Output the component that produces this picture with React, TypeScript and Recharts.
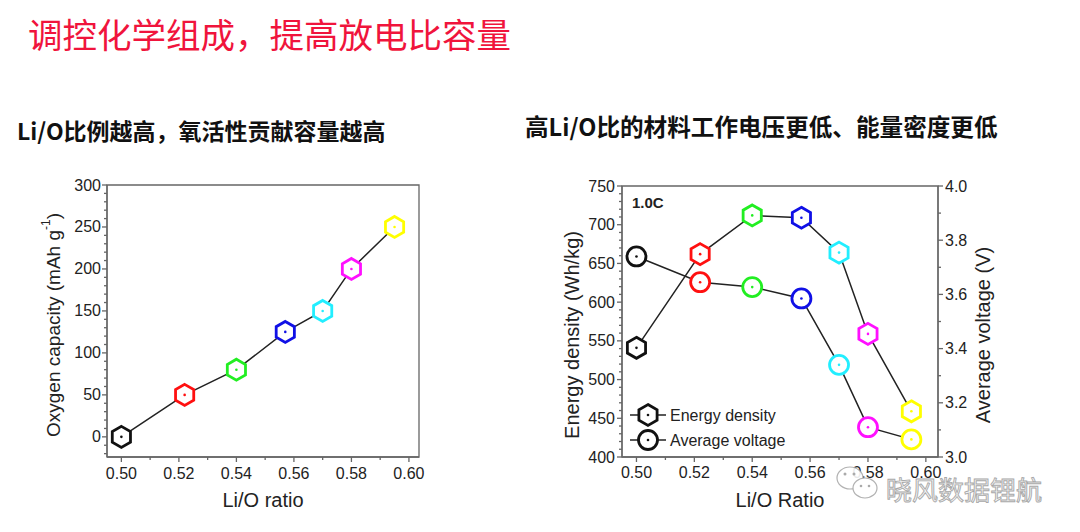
import { LineChart, Line, XAxis, YAxis, ReferenceArea } from 'recharts'

// values
const LI_O_RATIO = [0.5, 0.522, 0.54, 0.557, 0.57, 0.58, 0.595]
const OXYGEN_CAPACITY = [0, 50, 80, 125, 150, 200, 250]
const ENERGY_DENSITY = [541, 662, 712, 709, 664, 559, 459]
const AVERAGE_VOLTAGE = [3.74, 3.645, 3.627, 3.585, 3.34, 3.11, 3.065]
const MARKER_COLORS = ['#111111', '#ff1010', '#22ee22', '#1010e6', '#22eeff', '#ff10ff', '#ffff00']

const RATIO_MAJOR = [0.5, 0.52, 0.54, 0.56, 0.58, 0.6]
const RATIO_MINOR = [0.51, 0.53, 0.55, 0.57, 0.59]
const CAPACITY_MAJOR = [0, 50, 100, 150, 200, 250, 300]
const ENERGY_MAJOR = [400, 450, 500, 550, 600, 650, 700, 750]
const VOLTAGE_MAJOR = [3.0, 3.2, 3.4, 3.6, 3.8, 4.0]
const VOLTAGE_MINOR = [3.1, 3.3, 3.5, 3.7, 3.9]

const AXIS = '#666'
const TEXT = '#222'
const FONT = '"Liberation Sans", Arial, sans-serif'
const CJK = '"Noto Sans CJK SC", sans-serif'

const every = (lo: number, hi: number, step: number) => {
  const out: number[] = []
  for (let v = lo; v <= hi + 1e-9; v += step) out.push(Math.round(v * 1000) / 1000)
  return out
}

const capacityData = LI_O_RATIO.map((x, i) => ({ x, capacity: OXYGEN_CAPACITY[i] }))
const ratioData = LI_O_RATIO.map((x, i) => ({ x, energy: ENERGY_DENSITY[i], voltage: AVERAGE_VOLTAGE[i] }))

const isIn = (list: number[], v: number) => list.some(m => Math.abs(m - v) < 1e-6)

function makeTick(side: 'bottom' | 'left' | 'right', major: number[], fmt: (v: number) => string, gap: number) {
  return (props: any) => {
    const { x, y, payload, index } = props
    const v = payload.value
    const big = isIn(major, v)
    const len = big ? 5 : 3
    if (side === 'bottom') {
      return (
        <g key={`t-${index}`}>
          <line x1={x} x2={x} y1={y} y2={y + len} stroke={AXIS} strokeWidth={1.3} />
          {big && <text x={x} y={y + gap} textAnchor="middle" dominantBaseline="central" fontSize={16} fill={TEXT} fontFamily={FONT}>{fmt(v)}</text>}
        </g>
      )
    }
    const dir = side === 'left' ? -1 : 1
    return (
      <g key={`t-${index}`}>
        <line x1={x} x2={x + dir * len} y1={y} y2={y} stroke={AXIS} strokeWidth={1.3} />
        {big && <text x={x + dir * gap} y={y} textAnchor={side === 'left' ? 'end' : 'start'} dominantBaseline="central" fontSize={16} fill={TEXT} fontFamily={FONT}>{fmt(v)}</text>}
      </g>
    )
  }
}

function hexPoints(cx: number, cy: number, r: number) {
  return [0, 1, 2, 3, 4, 5].map(i => {
    const a = (Math.PI / 180) * (60 * i - 90)
    return `${cx + r * Math.cos(a)},${cy + r * Math.sin(a)}`
  }).join(' ')
}

function HexDot(props: any) {
  const { cx, cy, index } = props
  if (cx == null || cy == null) return <g key={`h-${index}`} />
  const c = props.color ?? MARKER_COLORS[index]
  return (
    <g key={`h-${index}`}>
      <polygon points={hexPoints(cx, cy, 10.5)} fill="#fff" stroke={c} strokeWidth={2.8} />
      <circle cx={cx} cy={cy} r={1.3} fill={c} />
    </g>
  )
}

function RingDot(props: any) {
  const { cx, cy, index } = props
  if (cx == null || cy == null) return <g key={`c-${index}`} />
  const c = props.color ?? MARKER_COLORS[index]
  return (
    <g key={`c-${index}`}>
      <circle cx={cx} cy={cy} r={9.5} fill="#fff" stroke={c} strokeWidth={2.8} />
      <circle cx={cx} cy={cy} r={1.3} fill={c} />
    </g>
  )
}

const fmt2 = (v: number) => v.toFixed(2)
const fmt0 = (v: number) => String(Math.round(v))
const fmt1 = (v: number) => v.toFixed(1)

function CapacityChart() {
  const xDomain: [number, number] = [0.495, 0.6035]
  const yDomain: [number, number] = [-24, 300]
  return (
    <LineChart width={480} height={532} data={capacityData} margin={{ top: 185, right: 61, bottom: 45, left: 47 }}>
      <XAxis type="number" dataKey="x" domain={xDomain} ticks={[...RATIO_MAJOR, ...RATIO_MINOR].sort()} interval={0}
        tickSize={0} tickMargin={0} tickLine={false} axisLine={{ stroke: AXIS, strokeWidth: 1.3 }}
        tick={makeTick('bottom', RATIO_MAJOR, fmt2, 16)} height={30} />
      <YAxis type="number" domain={yDomain} ticks={every(-20, 300, 10)} interval={0}
        tickSize={0} tickMargin={0} tickLine={false} axisLine={{ stroke: AXIS, strokeWidth: 1.3 }}
        tick={makeTick('left', CAPACITY_MAJOR, fmt0, 6)} width={60} />
      <ReferenceArea x1={xDomain[0]} x2={xDomain[1]} y1={yDomain[0]} y2={yDomain[1]} fill="none" stroke={AXIS} strokeWidth={1.3} />
      <Line dataKey="capacity" stroke="#222" strokeWidth={1.5} isAnimationActive={false} activeDot={false}
        dot={(p: any) => <HexDot {...p} key={`hx-${p.index}`} />} />
    </LineChart>
  )
}

function RatioChart() {
  const xDomain: [number, number] = [0.495, 0.6042]
  return (
    <LineChart width={580} height={532} data={ratioData} margin={{ top: 186, right: 82, bottom: 45, left: 62 }}>
      <XAxis type="number" dataKey="x" domain={xDomain} ticks={[...RATIO_MAJOR, ...RATIO_MINOR].sort()} interval={0}
        tickSize={0} tickMargin={0} tickLine={false} axisLine={{ stroke: AXIS, strokeWidth: 1.3 }}
        tick={makeTick('bottom', RATIO_MAJOR, fmt2, 15)} height={30} />
      <YAxis yAxisId="energy" type="number" domain={[400, 750]} ticks={every(400, 750, 10)} interval={0}
        tickSize={0} tickMargin={0} tickLine={false} axisLine={{ stroke: AXIS, strokeWidth: 1.3 }}
        tick={makeTick('left', ENERGY_MAJOR, fmt0, 7)} width={60} />
      <YAxis yAxisId="voltage" orientation="right" type="number" domain={[3, 4]} ticks={[...VOLTAGE_MAJOR, ...VOLTAGE_MINOR].sort()} interval={0}
        tickSize={0} tickMargin={0} tickLine={false} axisLine={{ stroke: AXIS, strokeWidth: 1.3 }}
        tick={makeTick('right', VOLTAGE_MAJOR, fmt1, 7)} width={60} />
      <ReferenceArea yAxisId="energy" x1={xDomain[0]} x2={xDomain[1]} y1={400} y2={750} fill="none" stroke={AXIS} strokeWidth={1.3} />
      <Line yAxisId="voltage" dataKey="voltage" stroke="#222" strokeWidth={1.5} isAnimationActive={false} activeDot={false}
        dot={(p: any) => <RingDot {...p} key={`rg-${p.index}`} />} />
      <Line yAxisId="energy" dataKey="energy" stroke="#222" strokeWidth={1.5} isAnimationActive={false} activeDot={false}
        dot={(p: any) => <HexDot {...p} key={`hx-${p.index}`} />} />
    </LineChart>
  )
}

export default function App() {
  return (
    <div style={{ position: 'absolute', left: 0, top: 0, width: 1080, height: 532, background: '#fff', overflow: 'hidden' }}>
      <div style={{ position: 'absolute', left: 28, top: 16, fontFamily: CJK, fontSize: 34.5, lineHeight: '34px', color: '#f0143c', whiteSpace: 'nowrap' }}>
        调控化学组成，提高放电比容量
      </div>
      <div style={{ position: 'absolute', left: 17, top: 119, fontFamily: CJK, fontWeight: 700, fontSize: 23, lineHeight: '23px', color: '#111', whiteSpace: 'nowrap' }}>
        Li/O比例越高，氧活性贡献容量越高
      </div>
      <div style={{ position: 'absolute', left: 525, top: 114, fontFamily: CJK, fontWeight: 700, fontSize: 23.6, lineHeight: '24px', color: '#111', whiteSpace: 'nowrap' }}>
        高Li/O比的材料工作电压更低、能量密度更低
      </div>

      <div style={{ position: 'absolute', left: 0, top: 0 }}>
        <CapacityChart />
      </div>
      <div style={{ position: 'absolute', left: 500, top: 0 }}>
        <RatioChart />
      </div>

      <svg width={1080} height={532} style={{ position: 'absolute', left: 0, top: 0, pointerEvents: 'none' }} fontFamily={FONT}>
        <text x={263} y={500} textAnchor="middle" dominantBaseline="central" fontSize={20} fill={TEXT}>Li/O ratio</text>
        <text transform="translate(53,325) rotate(-90)" textAnchor="middle" dominantBaseline="central" fontSize={19} fill={TEXT}>
          Oxygen capacity (mAh g<tspan dy={-7} fontSize={12}>-1</tspan><tspan dy={7}>)</tspan>
        </text>

        <text x={780} y={500} textAnchor="middle" dominantBaseline="central" fontSize={20} fill={TEXT}>Li/O Ratio</text>
        <text transform="translate(572,335) rotate(-90)" textAnchor="middle" dominantBaseline="central" fontSize={20} fill={TEXT}>Energy density (Wh/kg)</text>
        <text transform="translate(983,335) rotate(-90)" textAnchor="middle" dominantBaseline="central" fontSize={20} fill={TEXT}>Average voltage (V)</text>
        <text x={632} y={202} dominantBaseline="central" fontSize={15} fontWeight={700} fill={TEXT}>1.0C</text>

        <line x1={630} x2={666} y1={415} y2={415} stroke="#222" strokeWidth={1.5} />
        <HexDot cx={648} cy={415} index={0} color="#111" />
        <text x={670} y={415} dominantBaseline="central" fontSize={16} fill={TEXT}>Energy density</text>
        <line x1={630} x2={666} y1={440} y2={440} stroke="#222" strokeWidth={1.5} />
        <RingDot cx={648} cy={440} index={0} color="#111" />
        <text x={670} y={440} dominantBaseline="central" fontSize={16} fill={TEXT}>Average voltage</text>

        <g stroke="#aaa" strokeWidth={1.2} fill="#fff" opacity={0.9}>
          <ellipse cx={850} cy={478} rx={13} ry={11} />
          <ellipse cx={865} cy={488} rx={12} ry={10} />
        </g>
        <g fill="#aaa">
          <circle cx={845} cy={474} r={1.5} />
          <circle cx={854} cy={474} r={1.5} />
          <circle cx={861} cy={486} r={1.3} />
          <circle cx={869} cy={486} r={1.3} />
        </g>
        <text x={886} y={488} dominantBaseline="central" fontSize={26} fontFamily={CJK} fill="#f6f6f6" stroke="#a8a8a8" strokeWidth={0.9}>晓风数据锂航</text>
      </svg>
    </div>
  )
}
